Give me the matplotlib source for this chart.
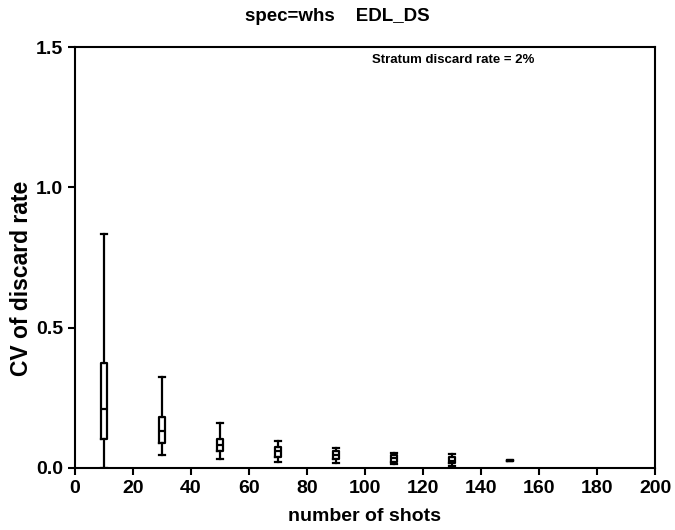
import matplotlib
matplotlib.use("Agg")
import matplotlib.pyplot as plt

plt.rcParams["font.family"] = ["Liberation Sans", "DejaVu Sans"]
plt.rcParams["font.weight"] = "bold"

# number of shots per simulated survey
shots = [10, 30, 50, 70, 90, 110, 130, 150]

# box statistics (CV of discard rate)
whisker_low = [0.000, 0.045, 0.031, 0.020, 0.017, 0.014, 0.008, 0.024]
q1 = [0.102, 0.088, 0.061, 0.040, 0.031, 0.022, 0.017, 0.025]
median = [0.210, 0.132, 0.082, 0.060, 0.046, 0.035, 0.026, 0.026]
q3 = [0.373, 0.182, 0.104, 0.076, 0.060, 0.046, 0.040, 0.027]
whisker_high = [0.832, 0.323, 0.159, 0.096, 0.070, 0.055, 0.050, 0.028]

stats = [
    dict(whislo=lo, q1=a, med=m, q3=b, whishi=hi, fliers=[])
    for lo, a, m, b, hi in zip(whisker_low, q1, median, q3, whisker_high)
]

fig = plt.figure(figsize=(6.75, 5.3), dpi=100)
ax = fig.add_axes([75 / 675, 62 / 530, 580 / 675, 421 / 530])

line = dict(color="black", linewidth=1.6)
ax.bxp(
    stats,
    positions=shots,
    widths=2.4,
    showfliers=False,
    boxprops=line,
    whiskerprops=line,
    capprops=line,
    medianprops=line,
    capwidths=2.0,
    manage_ticks=False,
)

ax.set_xlim(0, 200)
ax.set_ylim(0, 1.5)
ax.set_xticks(range(0, 201, 20))
ax.set_yticks([0.0, 0.5, 1.0, 1.5])
ax.set_yticklabels(["0.0", "0.5", "1.0", "1.5"])
ax.tick_params(direction="out", length=5, width=1.5, labelsize=14, top=False, right=False)
for s in ax.spines.values():
    s.set_linewidth(1.5)

ax.set_xlabel("number of shots", fontsize=14, fontweight="bold", labelpad=8)
ax.set_ylabel("CV of discard rate", fontsize=16.5, fontweight="bold")
ax.yaxis.set_label_coords(-0.073, 0.451)
fig.suptitle("spec=whs    EDL_DS", fontsize=13.5, fontweight="bold", y=0.985)
ax.text(0.512, 0.969, "Stratum discard rate = 2%", transform=ax.transAxes,
        fontsize=9.5, fontweight="bold", va="center", ha="left")

fig.savefig("out.png", dpi=100)
